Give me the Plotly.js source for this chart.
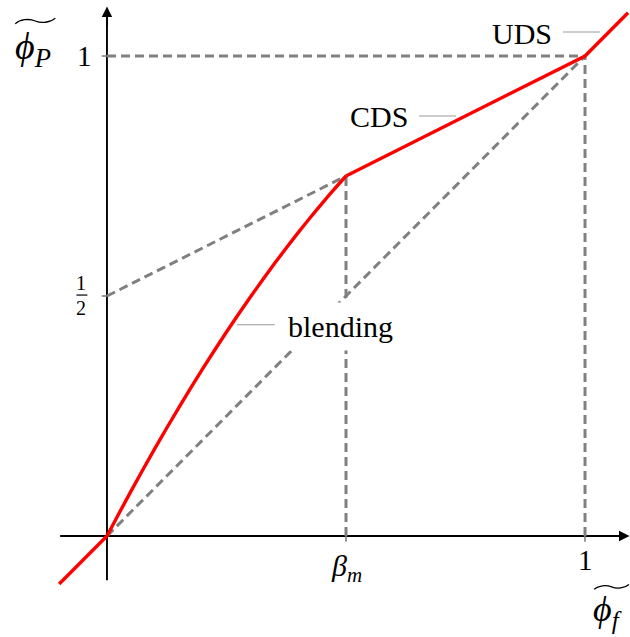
<!DOCTYPE html>
<html>
<head>
<meta charset="utf-8">
<script src="https://cdn.plot.ly/plotly-3.0.1.min.js"></script>
<style>
  html, body { margin: 0; padding: 0; background: #fff; }
  #chart { width: 630px; height: 637px; }
</style>
</head>
<body>
<div id="chart"></div>
<script>
// Normalised variable diagram: UDS / blending / CDS characteristic
const betaM = 0.5;

// red characteristic, piece by piece
const udsLowX = [-0.1, 0];
const udsLowY = [-0.1, 0];
const blendX = [0, 0.025, 0.05, 0.075, 0.1, 0.125, 0.15, 0.175, 0.2, 0.225, 0.25,
                0.275, 0.3, 0.325, 0.35, 0.375, 0.4, 0.425, 0.45, 0.475, 0.5];
const blendY = [0, 0.047, 0.093, 0.138, 0.182, 0.225, 0.267, 0.308, 0.348, 0.387, 0.425,
                0.462, 0.498, 0.533, 0.567, 0.600, 0.632, 0.663, 0.693, 0.722, 0.75];
const cdsX = [0.5, 1];
const cdsY = [0.75, 1];
const udsHighX = [1, 1.09];
const udsHighY = [1, 1.09];

// grey dashed guides
const diagX = [0, 1];
const diagY = [0, 1];
const cdsExtX = [0, 0.5];
const cdsExtY = [0.5, 0.75];
const betaLineX = [betaM, betaM];
const betaLineY = [0, 0.75];
const oneVertX = [1, 1];
const oneVertY = [0, 1];
const oneHorzX = [0, 1];
const oneHorzY = [1, 1];

// tick labels
const xTickVals = [betaM, 1];
const xTickText = ['<i>β</i><sub><i>m</i></sub>', '1'];
const yTickVals = [0.5, 1];

const serif = 'Liberation Serif, DejaVu Serif, serif';
const grey = '#808080';
const red = '#ff0000';

const dashStyle = { color: grey, width: 3, dash: '9px,5px' };
const pinStyle = { color: '#999', width: 1.1 };
const redStyle = { color: red, width: 3.4, simplify: false };

const traces = [
  // axes
  { x: [-0.098, 1.09], y: [0, 0], mode: 'lines', line: { color: '#000', width: 1.9 }, hoverinfo: 'skip' },
  { x: [0, 0], y: [-0.092, 1.095], mode: 'lines', line: { color: '#000', width: 1.9 }, hoverinfo: 'skip' },
  // small ticks
  { x: [betaM, betaM], y: [-0.012, 0], mode: 'lines', line: { color: grey, width: 1.6 }, hoverinfo: 'skip' },
  { x: [1, 1], y: [-0.012, 0], mode: 'lines', line: { color: grey, width: 1.6 }, hoverinfo: 'skip' },
  { x: [-0.011, 0], y: [0.5, 0.5], mode: 'lines', line: { color: grey, width: 1.6 }, hoverinfo: 'skip' },
  { x: [-0.011, 0], y: [1, 1], mode: 'lines', line: { color: grey, width: 1.6 }, hoverinfo: 'skip' },
  // dashed guides
  { x: oneHorzX, y: oneHorzY, mode: 'lines', line: dashStyle, hoverinfo: 'skip' },
  { x: oneVertX, y: oneVertY, mode: 'lines', line: dashStyle, hoverinfo: 'skip' },
  { x: betaLineX, y: betaLineY, mode: 'lines', line: dashStyle, hoverinfo: 'skip' },
  { x: diagX, y: diagY, mode: 'lines', line: dashStyle, hoverinfo: 'skip' },
  { x: cdsExtX, y: cdsExtY, mode: 'lines', line: dashStyle, hoverinfo: 'skip' },
  // characteristic: straight UDS / CDS pieces and a smooth blending arc
  { x: udsLowX, y: udsLowY, mode: 'lines', line: redStyle, hoverinfo: 'skip' },
  {
    x: blendX, y: blendY,
    mode: 'lines', line: Object.assign({ shape: 'spline', smoothing: 1 }, redStyle), hoverinfo: 'skip'
  },
  {
    x: cdsX.concat(udsHighX.slice(1)), y: cdsY.concat(udsHighY.slice(1)),
    mode: 'lines', line: redStyle, hoverinfo: 'skip'
  },
  // pin lines for labels
  { x: [0.954, 1.031], y: [1.05, 1.05], mode: 'lines', line: pinStyle, hoverinfo: 'skip' },
  { x: [0.653, 0.730], y: [0.875, 0.875], mode: 'lines', line: pinStyle, hoverinfo: 'skip' },
  { x: [0.272, 0.351], y: [0.440, 0.440], mode: 'lines', line: pinStyle, hoverinfo: 'skip' }
];

function txt(x, y, text, size, extra) {
  return Object.assign({
    x, y, xref: 'x', yref: 'y', text, showarrow: false,
    xanchor: 'center', yanchor: 'middle',
    font: { family: serif, size, color: '#000' }
  }, extra || {});
}

const annotations = [
  // arrow heads
  { x: 1.093, y: 0, ax: 1.05, ay: 0, xref: 'x', yref: 'y', axref: 'x', ayref: 'y',
    text: '', showarrow: true, arrowhead: 2, arrowsize: 1.1, arrowwidth: 1.9, arrowcolor: '#000', standoff: 0 },
  { x: 0, y: 1.103, ax: 0, ay: 1.06, xref: 'x', yref: 'y', axref: 'x', ayref: 'y',
    text: '', showarrow: true, arrowhead: 2, arrowsize: 1.1, arrowwidth: 1.9, arrowcolor: '#000', standoff: 0 },
  // tick labels
  txt(xTickVals[0], -0.066, xTickText[0], 30),
  txt(xTickVals[1], -0.05, xTickText[1], 29),
  txt(-0.046, yTickVals[1], '1', 29),
  txt(-0.054, 0.527, '1', 20),
  txt(-0.054, 0.476, '2', 20),
  // curve labels
  txt(0.868, 1.046, 'UDS', 30),
  txt(0.570, 0.873, 'CDS', 30),
  txt(0.4875, 0.4375, 'blending', 30, { bgcolor: '#fff', borderpad: 7 }),
  // axis titles
  txt(-0.155, 1.015, '<i>ϕ</i><sub><i>P</i></sub>', 38),
  txt(1.046, -0.158, '<i>ϕ</i><sub><i>f</i></sub>', 36)
];

// wide tilde drawn as a small cubic path in data units
function tilde(x0, x1, yc, amp) {
  const w = x1 - x0;
  const p = (x, y) => x.toFixed(4) + ',' + y.toFixed(4);
  return {
    type: 'path', xref: 'x', yref: 'y',
    path: 'M' + p(x0, yc - amp) +
      ' C' + p(x0 + w * 0.12, yc + amp * 0.6) + ' ' + p(x0 + w * 0.35, yc + amp * 0.9) + ' ' + p(x0 + w * 0.5, yc) +
      ' S' + p(x0 + w * 0.88, yc - amp * 0.6) + ' ' + p(x1, yc + amp),
    line: { color: '#000', width: 1.3 }
  };
}

const shapes = [
  // fraction bar of 1/2
  { type: 'line', xref: 'x', yref: 'y', x0: -0.064, x1: -0.041, y0: 0.502, y1: 0.502,
    line: { color: '#000', width: 1.2 } },
  tilde(-0.192, -0.108, 1.073, 0.006),
  tilde(1.019, 1.092, -0.106, 0.005)
];

const layout = {
  width: 630, height: 637,
  margin: { l: 0, r: 0, t: 0, b: 0, pad: 0 },
  paper_bgcolor: '#fff', plot_bgcolor: '#fff',
  showlegend: false,
  xaxis: { range: [-0.2238, 1.0941], visible: false, fixedrange: true },
  yaxis: { range: [-0.2104, 1.1167], visible: false, fixedrange: true },
  annotations, shapes
};

Plotly.newPlot('chart', traces, layout, { staticPlot: true, displayModeBar: false });
</script>
</body>
</html>
